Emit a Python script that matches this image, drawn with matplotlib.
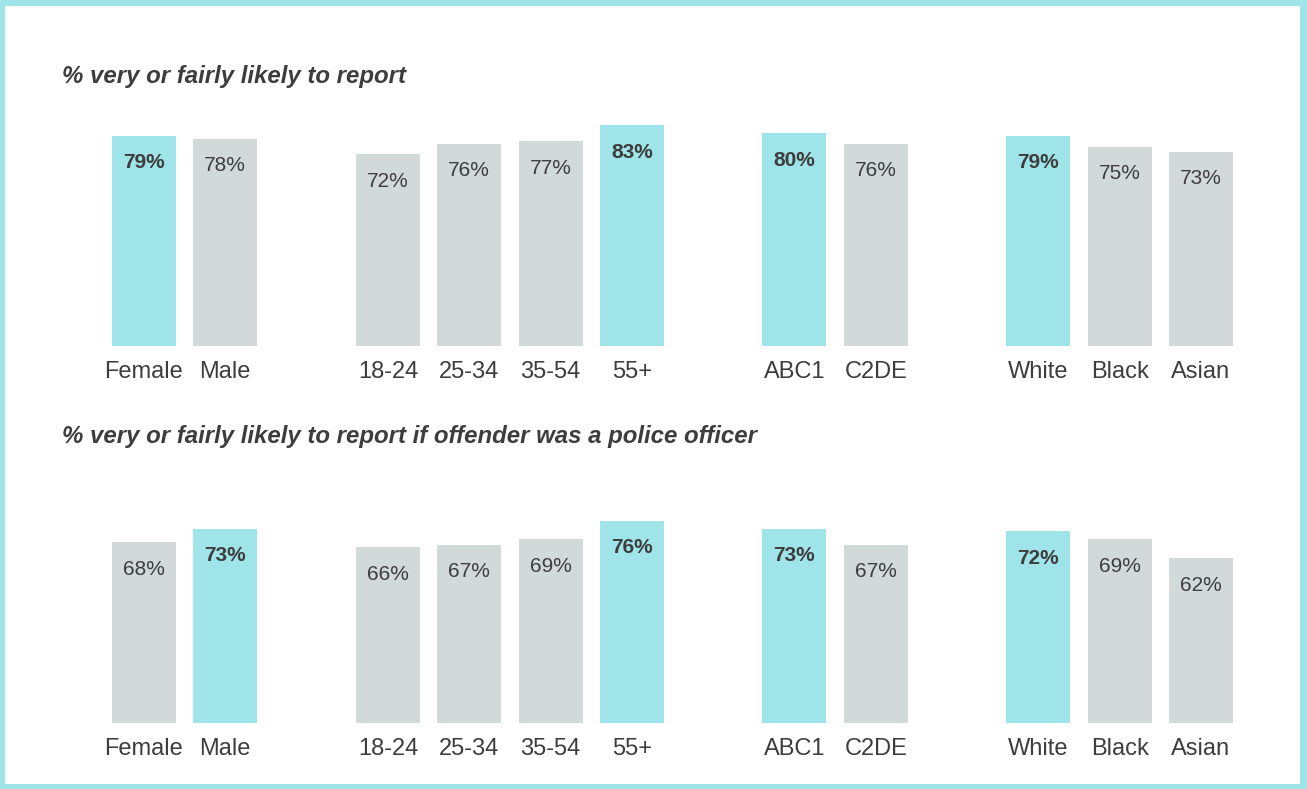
import matplotlib
matplotlib.use("Agg")
import matplotlib.pyplot as plt
from matplotlib.patches import Rectangle

categories = ["Female", "Male", "18-24", "25-34", "35-54", "55+", "ABC1", "C2DE", "White", "Black", "Asian"]
slots = [0, 1, 3, 4, 5, 6, 8, 9, 11, 12, 13]
report_values = [79, 78, 72, 76, 77, 83, 80, 76, 79, 75, 73]
report_highlight = [True, False, False, False, False, True, True, False, True, False, False]
police_values = [68, 73, 66, 67, 69, 76, 73, 67, 72, 69, 62]
police_highlight = [False, True, False, False, False, True, True, False, True, False, False]
titles = ["% very or fairly likely to report",
          "% very or fairly likely to report if offender was a police officer"]

TEAL = "#9FE4E8"
GREY = "#D2DAD9"
TEXT = "#3D3D3D"
FONT = "Liberation Sans"

W, H = 1307, 789
fig = plt.figure(figsize=(W / 100, H / 100), dpi=100)

px_per_pct = 2.66
pitch = 81.3
x_left, x_right = 144 - pitch / 2, 144 + 13.5 * pitch


def make_axes(bottom_px):
    height = 100 * px_per_pct
    ax = fig.add_axes([x_left / W, (H - bottom_px) / H, (x_right - x_left) / W, height / H])
    ax.set_xlim(-0.5, 13.5)
    ax.set_ylim(0, 100)
    ax.axis("off")
    return ax


def draw(ax, values, highlight):
    colors = [TEAL if h else GREY for h in highlight]
    ax.bar(slots, values, width=64 / pitch, color=colors, linewidth=0)
    for x, v, h, c in zip(slots, values, highlight, categories):
        ax.annotate(f"{v}%", xy=(x, v), xytext=(0, -27 * 0.72), textcoords="offset points",
                    ha="center", va="center", fontsize=15, family=FONT,
                    fontweight="bold" if h else "normal", color=TEXT)
        ax.annotate(c, xy=(x, 0), xytext=(0, -26 * 0.72),
                    textcoords="offset points", ha="center", va="center",
                    fontsize=17, family=FONT, color=TEXT)


ax1 = make_axes(346)
draw(ax1, report_values, report_highlight)
ax2 = make_axes(723)
draw(ax2, police_values, police_highlight)

fig.text(62 / W, 1 - 77 / H, titles[0], ha="left", va="center", fontsize=17.3,
         family=FONT, fontweight="bold", fontstyle="italic", color=TEXT)
fig.text(62 / W, 1 - 436 / H, titles[1], ha="left", va="center", fontsize=17.3,
         family=FONT, fontweight="bold", fontstyle="italic", color=TEXT)

# border frame (top, bottom, left, right thickness in px)
for (x0, y0, w, h) in [(0, H - 6, W, 6), (0, 0, W, 5), (0, 0, 5, H), (W - 7, 0, 7, H)]:
    fig.patches.append(Rectangle((x0 / W, y0 / H), w / W, h / H, transform=fig.transFigure,
                                 facecolor=TEAL, edgecolor="none"))

fig.savefig("out.png", dpi=100, facecolor="white")
